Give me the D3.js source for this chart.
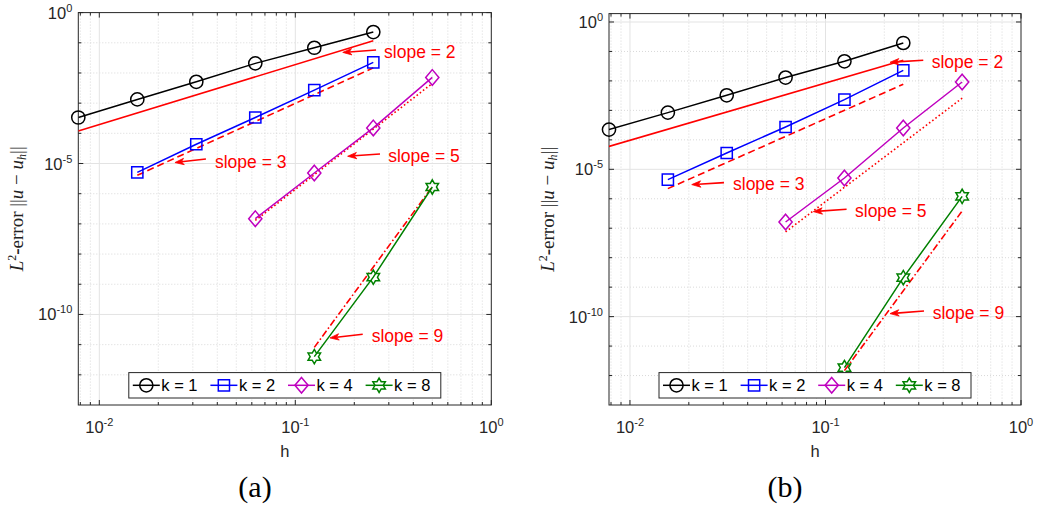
<!DOCTYPE html>
<html><head><meta charset="utf-8">
<script src="https://cdn.jsdelivr.net/npm/d3@7"></script>
<style>body{margin:0;background:#fff}svg{display:block}</style>
</head><body>
<svg id="chart" width="1040" height="508"></svg>
<script>
// ---------- data ----------
const hK1 = [0.0078125, 0.015625, 0.03125, 0.0625, 0.125, 0.25];
const hK2 = [0.015625, 0.03125, 0.0625, 0.125, 0.25];
const hK4 = [0.0625, 0.125, 0.25, 0.5];
const hK8 = [0.125, 0.25, 0.5];

// panel (a)
const errA_k1 = [3.35e-4, 1.33e-3, 5.09e-3, 2.08e-2, 6.84e-2, 0.227];
const errA_k2 = [5.1e-6, 4.35e-5, 3.35e-4, 2.7e-3, 2.24e-2];
const errA_k4 = [1.49e-7, 4.86e-6, 1.51e-4, 7.12e-3];
const errA_k8 = [4.0e-12, 1.72e-9, 1.67e-6];
// panel (b)
const errB_k1 = [2.23e-4, 8.4e-4, 3.25e-3, 1.3e-2, 4.63e-2, 0.194];
const errB_k2 = [4.47e-6, 3.57e-5, 2.73e-4, 2.32e-3, 2.29e-2];
const errB_k4 = [1.63e-7, 5.07e-6, 2.52e-4, 9.19e-3];
const errB_k8 = [1.86e-12, 2.1e-9, 1.21e-6];

// reference slope lines: h endpoints and values
const refS2H = [0.0078125, 0.25];
const refS3H = [0.015625, 0.25];
const refS5H = [0.0625, 0.5];
const refS9H = [0.125, 0.5];
const refA_s2 = [1.2e-4, 0.117];
const refA_s3 = [4.07e-6, 1.48e-2];
const refA_s5 = [1.3e-7, 4.5e-3];
const refA_s9 = [8.1e-12, 1.7e-6];
const refB_s2 = [6.0e-5, 0.05];
const refB_s3 = [2.21e-6, 7.7e-3];
const refB_s5 = [7.5e-8, 2.6e-3];
const refB_s9 = [1.47e-12, 3.85e-7];

const legendLabels = ["k = 1", "k = 2", "k = 4", "k = 8"];
const slopeLabels = ["slope = 2", "slope = 3", "slope = 5", "slope = 9"];
const xTickExp = [-2, -1, 0];
const yTickExp = [0, -5, -10];
const panelLabels = ["(a)", "(b)"];

// ---------- styles ----------
const seriesStyle = [
  {color: "#000000", marker: "circle"},
  {color: "#0000ff", marker: "square"},
  {color: "#bf00bf", marker: "diamond"},
  {color: "#008000", marker: "hexagram"}
];
const refDash = [null, "7,4", "1.6,2.4", "7,2.5,1.6,2.5"];
const sansFont = "'Liberation Sans', Arial, Helvetica, sans-serif";
const serifFont = "'Liberation Serif', 'Times New Roman', serif";

// annotation positions in data space (log10 h, log10 err): tip, tail, text
const notesA = [
  {tip: [-0.758, -1.318], tail: [-0.588, -1.241], text: [-0.547, -1.298]},
  {tip: [-1.614, -4.968], tail: [-1.456, -4.849], text: [-1.410, -4.948]},
  {tip: [-0.733, -4.759], tail: [-0.568, -4.683], text: [-0.526, -4.749]},
  {tip: [-0.823, -10.777], tail: [-0.656, -10.657], text: [-0.610, -10.700]}
];
const notesB = [
  {tip: [-0.670, -1.368], tail: [-0.500, -1.300], text: [-0.457, -1.358]},
  {tip: [-1.684, -5.519], tail: [-1.519, -5.451], text: [-1.473, -5.485]},
  {tip: [-1.062, -6.436], tail: [-0.892, -6.358], text: [-0.849, -6.415]},
  {tip: [-0.670, -9.898], tail: [-0.496, -9.810], text: [-0.452, -9.878]}
];

const panels = [
  {left: 78.3, right: 491.3, top: 12.6, bottom: 405, yMax: 1,
   series: [[hK1, errA_k1], [hK2, errA_k2], [hK4, errA_k4], [hK8, errA_k8]],
   refs: [[refS2H, refA_s2], [refS3H, refA_s3], [refS5H, refA_s5], [refS9H, refA_s9]],
   notes: notesA, label: panelLabels[0]},
  {left: 609.0, right: 1021.0, top: 13.6, bottom: 405, yMax: Math.pow(10, 0.285),
   series: [[hK1, errB_k1], [hK2, errB_k2], [hK4, errB_k4], [hK8, errB_k8]],
   refs: [[refS2H, refB_s2], [refS3H, refB_s3], [refS5H, refB_s5], [refS9H, refB_s9]],
   notes: notesB, label: panelLabels[1]}
];

const svg = d3.select("#chart");

function markerPath(type) {
  if (type === "circle") return d3.symbol().type(d3.symbolCircle).size(Math.PI * 6.6 * 6.6)();
  if (type === "square") return "M-5.6,-5.6H5.6V5.6H-5.6Z";
  if (type === "diamond") return "M0,-7.8L6.6,0L0,7.8L-6.6,0Z";
  if (type === "hexagram") {
    const R = 7.2, r = R / Math.sqrt(3);
    const pts = d3.range(12).map(i => {
      const a = -Math.PI / 2 + i * Math.PI / 6;
      const rr = i % 2 === 0 ? R : r;
      return [rr * Math.cos(a), rr * Math.sin(a)];
    });
    return "M" + pts.map(p => p.join(",")).join("L") + "Z";
  }
}

function tickLabel(sel, exp) {
  sel.append("tspan").text("10");
  sel.append("tspan").attr("font-size", 11).attr("dy", -7).text(String(exp));
}

panels.forEach((p, pi) => {
  const x = d3.scaleLog().domain([Math.pow(2, -7), 1]).range([p.left, p.right]);
  const y = d3.scaleLog().domain([1e-13, p.yMax]).range([p.bottom, p.top]);
  const g = svg.append("g");

  g.append("rect").attr("x", p.left).attr("y", p.top)
    .attr("width", p.right - p.left).attr("height", p.bottom - p.top).attr("fill", "#fff");

  // grid
  const xMinor = [];
  for (let d = -3; d <= -1; d++) for (let m = 2; m <= 9; m++) {
    const v = m * Math.pow(10, d);
    if (v > Math.pow(2, -7) && v < 1) xMinor.push(v);
  }
  const xMajor = [1e-2, 1e-1];
  const yAll = d3.range(-12, 1).map(e => Math.pow(10, e));
  const yMajor = yTickExp.map(e => Math.pow(10, e));
  const yMinor = yAll.filter(v => !yMajor.includes(v));

  g.selectAll(null).data(xMinor).join("line")
    .attr("x1", d => x(d)).attr("x2", d => x(d)).attr("y1", p.top).attr("y2", p.bottom)
    .attr("stroke", "#cfcfcf").attr("stroke-width", 0.8).attr("stroke-dasharray", "1,2");
  g.selectAll(null).data(yMinor).join("line")
    .attr("y1", d => y(d)).attr("y2", d => y(d)).attr("x1", p.left).attr("x2", p.right)
    .attr("stroke", "#cfcfcf").attr("stroke-width", 0.8).attr("stroke-dasharray", "1,2");
  g.selectAll(null).data(xMajor).join("line")
    .attr("x1", d => x(d)).attr("x2", d => x(d)).attr("y1", p.top).attr("y2", p.bottom)
    .attr("stroke", "#e3e3e3").attr("stroke-width", 1);
  g.selectAll(null).data(yMajor.filter(v => y(v) > p.top + 1)).join("line")
    .attr("y1", d => y(d)).attr("y2", d => y(d)).attr("x1", p.left).attr("x2", p.right)
    .attr("stroke", "#e3e3e3").attr("stroke-width", 1);

  // ticks (inward, both sides)
  const axC = "#262626";
  const xTicksAll = xMinor.map(v => [v, 3]).concat(xTickExp.map(e => [Math.pow(10, e), 5]));
  xTicksAll.forEach(([v, len]) => {
    g.append("line").attr("x1", x(v)).attr("x2", x(v)).attr("y1", p.bottom).attr("y2", p.bottom - len).attr("stroke", axC);
    g.append("line").attr("x1", x(v)).attr("x2", x(v)).attr("y1", p.top).attr("y2", p.top + len).attr("stroke", axC);
  });
  const yTicksAll = yMinor.map(v => [v, 3]).concat(yMajor.map(v => [v, 5]));
  yTicksAll.forEach(([v, len]) => {
    g.append("line").attr("y1", y(v)).attr("y2", y(v)).attr("x1", p.left).attr("x2", p.left + len).attr("stroke", axC);
    g.append("line").attr("y1", y(v)).attr("y2", y(v)).attr("x1", p.right).attr("x2", p.right - len).attr("stroke", axC);
  });

  // box
  g.append("rect").attr("x", p.left).attr("y", p.top)
    .attr("width", p.right - p.left).attr("height", p.bottom - p.top)
    .attr("fill", "none").attr("stroke", axC).attr("stroke-width", 1);

  // tick labels
  xTickExp.forEach(e => {
    const t = g.append("text").attr("x", x(Math.pow(10, e))).attr("y", p.bottom + 28)
      .attr("text-anchor", "middle").attr("font-family", sansFont).attr("font-size", 16.5).attr("fill", axC);
    tickLabel(t, e);
  });
  yTickExp.forEach(e => {
    const t = g.append("text").attr("x", p.left - 6).attr("y", y(Math.pow(10, e)) + 6)
      .attr("text-anchor", "end").attr("font-family", sansFont).attr("font-size", 16.5).attr("fill", axC);
    tickLabel(t, e);
  });

  // axis labels
  g.append("text").attr("x", (p.left + p.right) / 2).attr("y", p.bottom + 52)
    .attr("text-anchor", "middle").attr("font-family", sansFont).attr("font-size", 16.5).attr("fill", axC).text("h");
  const yl = g.append("text")
    .attr("transform", `translate(${p.left - 55},${(p.top + p.bottom) / 2}) rotate(-90)`)
    .attr("text-anchor", "middle").attr("font-family", serifFont).attr("font-size", 19).attr("fill", "#222");
  yl.append("tspan").attr("font-style", "italic").text("L");
  yl.append("tspan").attr("font-size", 12).attr("dy", -7).text("2");
  yl.append("tspan").attr("dy", 7).attr("font-weight", "bold").text("-");
  yl.append("tspan").text("error  ||");
  yl.append("tspan").attr("font-style", "italic").text("u");
  yl.append("tspan").text(" \u2212 ");
  yl.append("tspan").attr("font-style", "italic").text("u");
  yl.append("tspan").attr("font-style", "italic").attr("font-size", 12).attr("dy", 3).text("h");
  yl.append("tspan").attr("dy", -3).text("||");

  // clip for plot content
  const clipId = "clip" + pi;
  svg.append("clipPath").attr("id", clipId).append("rect")
    .attr("x", p.left).attr("y", p.top).attr("width", p.right - p.left).attr("height", p.bottom - p.top);
  const plot = g.append("g").attr("clip-path", `url(#${clipId})`);

  const line = d3.line().x(d => x(d[0])).y(d => y(d[1]));

  p.refs.forEach(([hs, vs], i) => {
    plot.append("path").datum(d3.zip(hs, vs)).attr("d", line)
      .attr("fill", "none").attr("stroke", "#ff0000").attr("stroke-width", 1.6)
      .attr("stroke-dasharray", refDash[i]);
  });

  p.series.forEach(([hs, vs], i) => {
    const st = seriesStyle[i];
    const pts = d3.zip(hs, vs);
    plot.append("path").datum(pts).attr("d", line)
      .attr("fill", "none").attr("stroke", st.color).attr("stroke-width", 1.5);
    g.selectAll(null).data(pts).join("path")
      .attr("d", markerPath(st.marker))
      .attr("transform", d => `translate(${x(d[0])},${y(d[1])})`)
      .attr("fill", "none").attr("stroke", st.color).attr("stroke-width", 1.5);
  });

  // annotations
  const px = v => x(Math.pow(10, v[0]));
  const py = v => y(Math.pow(10, v[1]));
  p.notes.forEach((n, i) => {
    const tx = px(n.tip), ty = py(n.tip), sx = px(n.tail), sy = py(n.tail);
    const ang = Math.atan2(ty - sy, tx - sx);
    const L = 9, W = 3.2, notch = 6.5;
    const c = Math.cos(ang), s = Math.sin(ang);
    const bx = tx - L * c, by = ty - L * s;
    const nx = tx - notch * c, ny = ty - notch * s;
    g.append("line").attr("x1", sx).attr("y1", sy).attr("x2", nx).attr("y2", ny)
      .attr("stroke", "#ff0000").attr("stroke-width", 1.6);
    g.append("path")
      .attr("d", `M${tx},${ty}L${bx - W * s},${by + W * c}L${nx},${ny}L${bx + W * s},${by - W * c}Z`)
      .attr("fill", "#ff0000").attr("stroke", "#ff0000").attr("stroke-width", 0.8);
    g.append("text").attr("x", px(n.text)).attr("y", py(n.text) + 6)
      .attr("font-family", sansFont).attr("font-size", 17.5).attr("fill", "#ff0000")
      .text(slopeLabels[i]);
  });

  // legend
  const lw = 312, lh = 25.4;
  const lx = (p.left + p.right) / 2 - lw / 2, ly = p.bottom - 7 - lh;
  const lg = g.append("g");
  lg.append("rect").attr("x", lx).attr("y", ly).attr("width", lw).attr("height", lh)
    .attr("fill", "#fff").attr("stroke", axC).attr("stroke-width", 1);
  legendLabels.forEach((lab, i) => {
    const st = seriesStyle[i];
    const ex = lx + 4 + i * 77.6, cy = ly + lh / 2;
    lg.append("line").attr("x1", ex).attr("x2", ex + 27).attr("y1", cy).attr("y2", cy)
      .attr("stroke", st.color).attr("stroke-width", 1.5);
    lg.append("path").attr("d", markerPath(st.marker))
      .attr("transform", `translate(${ex + 13.5},${cy})`)
      .attr("fill", "none").attr("stroke", st.color).attr("stroke-width", 1.5);
    lg.append("text").attr("x", ex + 28.5).attr("y", cy + 6)
      .attr("font-family", sansFont).attr("font-size", 16.5).attr("fill", "#000").text(lab);
  });

  // panel label
  svg.append("text").attr("x", pi === 0 ? 255 : 785).attr("y", 497)
    .attr("text-anchor", "middle").attr("font-family", serifFont).attr("font-size", 30)
    .attr("fill", "#000").text(p.label);
});
</script>
</body></html>
